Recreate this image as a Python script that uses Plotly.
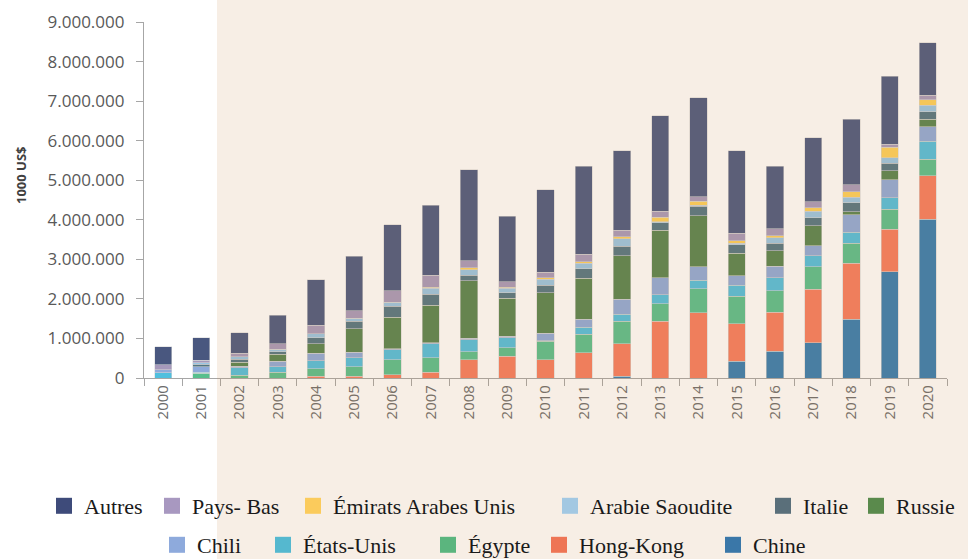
import plotly.graph_objects as go

years = [str(y) for y in range(2000, 2021)]

# values in millions of (1000 US$), converted below
chine      = [0, 0, 0, 0, 0, 0, 0, 0, 0, 0, 0, 0, 0.05, 0, 0, 0.42, 0.68, 0.89, 1.48, 2.68, 4.01]
hong_kong  = [0, 0, 0, 0, 0.05, 0.04, 0.08, 0.14, 0.46, 0.55, 0.46, 0.64, 0.82, 1.43, 1.65, 0.95, 0.98, 1.35, 1.42, 1.08, 1.10]
egypte     = [0, 0.12, 0.07, 0.14, 0.19, 0.24, 0.38, 0.37, 0.21, 0.22, 0.47, 0.46, 0.57, 0.45, 0.61, 0.70, 0.54, 0.57, 0.51, 0.51, 0.42]
etats_unis = [0.13, 0.02, 0.19, 0.14, 0.19, 0.23, 0.26, 0.36, 0.30, 0.25, 0.01, 0.18, 0.17, 0.23, 0.21, 0.27, 0.34, 0.28, 0.28, 0.29, 0.46]
chili      = [0.08, 0.15, 0.04, 0.14, 0.19, 0.14, 0.02, 0.02, 0.03, 0.04, 0.19, 0.20, 0.38, 0.42, 0.34, 0.25, 0.28, 0.25, 0.44, 0.45, 0.36]
russie     = [0, 0, 0.10, 0.18, 0.25, 0.59, 0.79, 0.95, 1.46, 0.96, 1.03, 1.04, 1.10, 1.21, 1.29, 0.57, 0.40, 0.51, 0.07, 0.23, 0.19]
italie     = [0, 0.06, 0.07, 0.06, 0.15, 0.20, 0.28, 0.28, 0.14, 0.13, 0.18, 0.24, 0.24, 0.19, 0.24, 0.21, 0.19, 0.20, 0.23, 0.19, 0.19]
arabie     = [0, 0.04, 0.07, 0.07, 0.10, 0.07, 0.10, 0.15, 0.14, 0.12, 0.16, 0.14, 0.19, 0.02, 0.03, 0.04, 0.14, 0.17, 0.14, 0.14, 0.17]
emirats    = [0, 0, 0, 0, 0, 0, 0, 0.03, 0.05, 0.03, 0.04, 0.04, 0.05, 0.11, 0.10, 0.06, 0.05, 0.09, 0.14, 0.26, 0.14]
pays_bas   = [0.13, 0.06, 0.08, 0.14, 0.21, 0.19, 0.30, 0.30, 0.17, 0.13, 0.13, 0.19, 0.16, 0.16, 0.11, 0.19, 0.17, 0.14, 0.17, 0.08, 0.11]
autres     = [0.45, 0.57, 0.52, 0.72, 1.16, 1.38, 1.67, 1.77, 2.30, 1.66, 2.09, 2.22, 2.01, 2.41, 2.51, 2.08, 1.58, 1.62, 1.66, 1.72, 1.32]

y_ticks = [0, 1000000, 2000000, 3000000, 4000000, 5000000, 6000000, 7000000, 8000000, 9000000]
y_labels = ["0", "1.000.000", "2.000.000", "3.000.000", "4.000.000", "5.000.000",
            "6.000.000", "7.000.000", "8.000.000", "9.000.000"]

# (name, values, bar colour, legend colour) bottom-to-top
series = [
    ("Chine", chine, "#337cb1", "#3a77a8"),
    ("Hong-Kong", hong_kong, "#f67c5e", "#ee7555"),
    ("Égypte", egypte, "#57bf8d", "#5bb57e"),
    ("États-Unis", etats_unis, "#50bfde", "#55b8cf"),
    ("Chili", chili, "#8eaada", "#8eaadc"),
    ("Russie", russie, "#55834f", "#5a8a4c"),
    ("Italie", italie, "#527583", "#5a6f7a"),
    ("Arabie Saoudite", arabie, "#98c6e4", "#a3c8e2"),
    ("Émirats Arabes Unis", emirats, "#fdd15b", "#fbcb5c"),
    ("Pays- Bas", pays_bas, "#a699bb", "#a898c0"),
    ("Autres", autres, "#49577f", "#3e4b7a"),
]

# legend entry placement (pixel: square centre x, row centre y)
legend_pos = {
    "Autres": (64, 506), "Pays- Bas": (172, 506), "Émirats Arabes Unis": (313, 506),
    "Arabie Saoudite": (570, 506), "Italie": (783, 506), "Russie": (876, 506),
    "Chili": (177, 545), "États-Unis": (283, 545), "Égypte": (448, 545),
    "Hong-Kong": (559, 545), "Chine": (733, 545),
}

W, H = 968, 559
L, R, T, B = 144, 21, 22, 181
pw, ph = W - L - R, H - T - B

def px(x):
    return (x - L) / pw

def py(y):
    return (H - B - y) / ph

serif = "Liberation Serif, Times New Roman, serif"

fig = go.Figure()
for name, vals, col, lcol in series:
    fig.add_trace(go.Bar(
        x=years, y=[v * 1e6 for v in vals], name=name, showlegend=False,
        marker=dict(color=col, line=dict(color="rgba(215,215,215,0.9)", width=0.6)),
    ))

legends = {}
for i, (name, vals, col, lcol) in enumerate(series):
    lid = "legend" if i == 0 else "legend%d" % (i + 1)
    fig.add_trace(go.Scatter(
        x=[None], y=[None], mode="markers", name=name, legend=lid,
        marker=dict(symbol="square", size=17, color=lcol),
    ))
    cx, cy = legend_pos[name]
    legends[lid] = dict(
        orientation="h", x=px(cx - 20), y=py(cy), xanchor="left", yanchor="middle",
        font=dict(family=serif, size=22, color="#1a1a1a"),
        itemwidth=30, bgcolor="rgba(0,0,0,0)", borderwidth=0,
    )

fig.update_layout(
    width=W, height=H,
    margin=dict(l=L, r=R, t=T, b=B, autoexpand=False),
    paper_bgcolor="white", plot_bgcolor="rgba(0,0,0,0)",
    barmode="stack", bargap=0.55,
    font=dict(family="Open Sans", color="#595959"),
    xaxis=dict(
        type="category", showline=True, linecolor="#a6a6a6", linewidth=1.2,
        ticks="outside", tickson="boundaries", ticklen=7, tickcolor="#a6a6a6",
        tickangle=-90, tickfont=dict(size=15, color="#6b6b6b"), showgrid=False,
    ),
    yaxis=dict(
        range=[0, 9000000], tickvals=y_ticks, ticktext=y_labels,
        showline=True, linecolor="#a6a6a6", linewidth=1.2,
        ticks="outside", ticklen=7, tickcolor="#a6a6a6", ticklabelstandoff=8,
        tickfont=dict(size=17, color="#595959"), showgrid=False, zeroline=False,
    ),
    annotations=[dict(
        text="<b>1000 US$</b>", textangle=-90, x=px(21), y=py(175),
        xref="paper", yref="paper", showarrow=False, xanchor="center", yanchor="middle",
        font=dict(family="Open Sans", size=13, color="#404040"),
    )],
    shapes=[dict(
        type="rect", xref="paper", yref="paper", layer="above",
        x0=px(217), x1=px(975), y0=py(565), y1=py(-5),
        fillcolor="rgba(202,142,82,0.15)", line=dict(width=0),
    )],
    **legends,
)

fig.write_html("out.html", config={"displayModeBar": False},
               post_script="document.body.style.margin='0px';")
